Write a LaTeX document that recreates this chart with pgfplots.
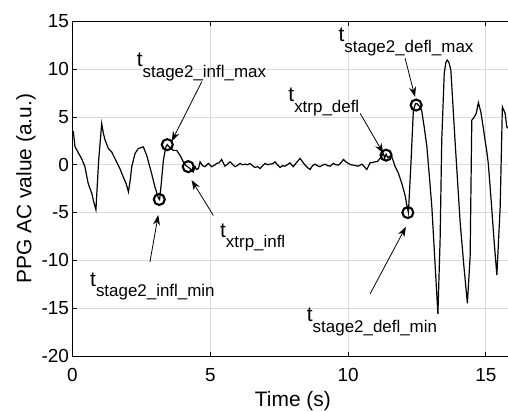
\documentclass[border=0pt]{standalone}
\usepackage{fontspec}
\setmainfont{Liberation Sans}
\usepackage{pgfplots}
\pgfplotsset{compat=1.18}
\usetikzlibrary{arrows.meta}
\definecolor{gridgray}{RGB}{220,220,220}
\newcommand{\tlab}[1]{{\fontsize{21}{21}\selectfont t}\raisebox{-10.5bp}{\fontsize{17}{17}\selectfont #1}}
\begin{document}
\begin{tikzpicture}
\begin{axis}[
  scale only axis, width=440.9bp, height=334.7bp,
  xmin=0, xmax=16, ymin=-20, ymax=15,
  xtick={0,5,10,15}, ytick={-20,-15,-10,-5,0,5,10,15},
  grid=major, major grid style={gridgray, line width=0.7bp},
  tick align=inside, xtick pos=both, ytick pos=both, major tick length=4.5bp,
  axis line style={black, line width=0.7bp},
  tick style={black, line width=0.7bp},
  ticklabel style={font=\fontsize{19}{19}\selectfont},
  /pgf/number format/assume math mode=true,
  xticklabel style={yshift=-9bp},
  xlabel={Time (s)}, ylabel={PPG AC value (a.u.)},
  label style={font=\fontsize{21}{21}\selectfont},
  xlabel style={at={(axis description cs:0.5,0)}, anchor=base, yshift=-50.5bp},
  ylabel style={at={([xshift=-41bp]axis description cs:0,0.5)}, anchor=base},
]
\addplot[black, line width=1.2bp] coordinates {
(0.00,3.5) (0.03,3.45) (0.09,1.9) (0.20,1.3) (0.33,0.65) (0.45,-0.2) (0.57,-1.96) (0.70,-3.0) (0.78,-4.0) (0.85,-4.7)
(0.95,0.5) (1.06,4.3) (1.12,3.3) (1.18,2.6) (1.30,1.7) (1.42,1.35) (1.54,0.65) (1.72,-0.4) (1.84,-1.27) (1.95,-2.0)
(2.03,-2.84) (2.10,-1.5) (2.15,-0.2) (2.27,1.18) (2.39,1.7) (2.57,1.87) (2.69,1.0) (2.87,-0.9) (2.99,-2.3) (3.12,-3.5)
(3.16,-3.65) (3.22,-2.0) (3.30,0.5) (3.38,1.8) (3.44,2.1) (3.50,1.9) (3.66,1.5) (3.78,1.5) (3.90,1.0) (4.02,0.3)
(4.12,-0.1) (4.20,-0.25) (4.30,-0.5) (4.38,-0.75) (4.45,-0.2) (4.50,-0.5) (4.57,-0.4)
(4.63,0.3) (4.72,-0.1) (4.81,-0.2) (4.93,0.14) (5.05,-0.2) (5.15,-0.05) (5.23,0.14) (5.32,0.2) (5.41,0.55) (5.53,-0.15)
(5.62,0.05) (5.72,0.3) (5.82,0.0) (5.90,-0.2) (6.00,-0.05) (6.08,0.14) (6.17,0.0) (6.26,0.06) (6.35,0.0) (6.44,0.14)
(6.53,-0.1) (6.62,-0.28) (6.72,-0.2) (6.81,-0.4) (6.90,-0.1) (6.99,0.14) (7.08,0.0) (7.17,0.06) (7.26,0.1) (7.35,0.3)
(7.44,0.0) (7.53,-0.28) (7.62,-0.1) (7.71,-0.15) (7.80,0.0) (7.89,0.2) (8.01,-0.2) (8.12,0.2) (8.26,0.66) (8.35,0.3)
(8.44,-0.04) (8.53,-0.3) (8.62,-0.5) (8.71,-0.1) (8.80,0.06) (8.89,-0.1) (8.98,-0.2) (9.07,-0.05) (9.17,0.06) (9.26,-0.1)
(9.35,-0.15) (9.47,0.14) (9.56,0.0) (9.65,-0.04) (9.74,0.2) (9.83,0.55) (9.92,0.3) (10.01,0.14) (10.10,0.0) (10.19,-0.04)
(10.28,-0.1) (10.37,-0.15) (10.50,0.06) (10.59,-0.2) (10.68,-0.5) (10.80,0.2) (10.90,0.25) (10.98,0.3) (11.07,0.35) (11.16,0.66)
(11.28,1.18) (11.33,0.7) (11.38,1.1) (11.44,0.75) (11.52,0.9) (11.59,0.83) (11.65,0.3) (11.71,-0.2) (11.83,-0.9) (11.95,-1.96)
(12.07,-3.2) (12.13,-4.2) (12.19,-5.0) (12.28,0.0) (12.37,5.7) (12.45,6.4) (12.49,6.4) (12.57,6.2) (12.67,5.7) (12.76,4.0)
(12.86,1.9) (12.95,-1.2) (13.04,-4.4) (13.15,-10.0) (13.26,-15.6) (13.34,-7.9) (13.40,2.6) (13.49,9.56) (13.55,10.7) (13.60,10.95)
(13.66,10.7) (13.73,9.9) (13.80,6.5) (13.88,2.6) (13.98,-2.0) (14.07,-6.1) (14.20,-10.5) (14.33,-14.5) (14.43,-9.6) (14.49,4.67)
(14.55,4.85) (14.65,5.37) (14.73,6.5) (14.82,5.5) (14.90,4.0) (14.97,2.6) (15.03,1.5) (15.09,0.1) (15.21,-4.4) (15.30,-8.0)
(15.40,-11.55) (15.52,-4.4) (15.60,6.06) (15.70,5.37) (15.76,3.97) (15.82,3.8) (15.90,3.6)
};
\addplot[only marks, mark=o, mark size=5.5bp, mark options={line width=2.1bp, black}] coordinates {
(3.15,-3.63) (3.44,2.1) (4.2,-0.2) (11.38,1.0) (12.17,-5.0) (12.47,6.24)
};
\draw[-{Stealth[length=10bp,width=7bp]}, line width=0.8bp] (axis cs:4.69,8.68) -- (axis cs:3.60,2.45);
\draw[-{Stealth[length=10bp,width=7bp]}, line width=0.8bp] (axis cs:5.11,-5.3) -- (axis cs:4.32,-1.6);
\draw[-{Stealth[length=10bp,width=7bp]}, line width=0.8bp] (axis cs:2.81,-10.17) -- (axis cs:3.11,-5.26);
\draw[-{Stealth[length=10bp,width=7bp]}, line width=0.8bp] (axis cs:10.44,5.37) -- (axis cs:11.28,1.19);
\draw[-{Stealth[length=10bp,width=7bp]}, line width=0.8bp] (axis cs:12.07,11.13) -- (axis cs:12.43,7.1);
\draw[-{Stealth[length=10bp,width=7bp]}, line width=0.8bp] (axis cs:10.8,-13.5) -- (axis cs:12.1,-6.48);
\node[anchor=base west, inner sep=0] at (axis cs:2.33,10.24) {\tlab{stage2\_infl\_max}};
\node[anchor=base west, inner sep=0] at (axis cs:9.65,12.86) {\tlab{stage2\_defl\_max}};
\node[anchor=base west, inner sep=0] at (axis cs:7.83,6.58) {\tlab{xtrp\_defl}};
\node[anchor=base west, inner sep=0] at (axis cs:8.50,-16.43) {\tlab{stage2\_defl\_min}};
\node[anchor=base west, inner sep=0] at (axis cs:0.635,-12.7) {\tlab{stage2\_infl\_min}};
\node[anchor=base west, inner sep=0] at (axis cs:5.35,-7.6) {\tlab{xtrp\_infl}};
\end{axis}
\pgfresetboundingbox
\useasboundingbox (-72.5bp,-56bp) rectangle (435.5bp,356bp);
\end{tikzpicture}
\end{document}
